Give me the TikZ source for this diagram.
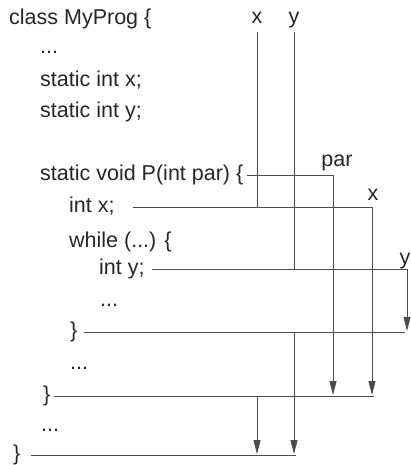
\documentclass[tikz,border=0pt]{standalone}
\usepackage{fontspec}
\setmainfont{Liberation Sans}
\usetikzlibrary{arrows.meta,positioning,calc}

\begin{document}
\begin{tikzpicture}[x=1pt,y=-1pt,
    code/.style={anchor=west,inner xsep=0pt,inner ysep=0pt,text height=16pt,text depth=5pt,
      font=\fontsize{21.5}{26}\selectfont,text=black!85},
    lab/.style={anchor=base,inner sep=0pt,font=\fontsize{21.5}{26}\selectfont,text=black!85},
    scopeline/.style={black!70,line width=0.8pt},
    scopearrow/.style={scopeline,-{Triangle[length=14pt,width=7pt]},shorten >=1pt}]
    \useasboundingbox (0,0) rectangle (411,465);

    % Program text
    \node[code] (cls) at (9,19.5) {class MyProg \{};
    \node[code] (dots1) at (40,48.5) {...};
    \node[code] (sx) at (40,81.5) {static int x;};
    \node[code] (sy) at (40,112.5) {static int y;};
    \node[code] (pdecl) at (40,175) {static void P(int par) \{};
    \node[code] (intx) at (69,207) {int x;};
    \node[code] (whl) at (69,241.5) {while (...) \{};
    \node[code] (inty) at (99,269) {int y;};
    \node[code] (dots2) at (100,300.5) {...};
    \node[code] (wclose) at (70,332) {\}};
    \node[code] (dots3) at (70,363.5) {...};
    \node[code] (pclose) at (43,396) {\}};
    \node[code] (dots4) at (41,425.5) {...};
    \node[code] (clsclose) at (13,455) {\}};

    % Scope columns
    \coordinate (gxtop) at (257,32);
    \coordinate (gytop) at (294,32);
    \coordinate (parcol) at (333,175);
    \coordinate (lxcol) at (372,207);
    \coordinate (lycol) at (407,269);

    % Labels
    \node[lab] (gxlab) at (257,24) {x};
    \node[lab] (gylab) at (294,24) {y};
    \node[lab] (parlab) at (337,166) {par};
    \node[lab] (lxlab) at (373,200) {x};
    \node[lab] (lylab) at (405,264) {y};

    % Global x and y
    \draw[scopeline] (gxtop) -- (gxtop |- intx.east);
    \draw[scopearrow] (gxtop |- pclose.east) -- (gxtop |- clsclose.east);
    \draw[scopeline] (gytop) -- (gytop |- inty.east);
    \draw[scopearrow] (gytop |- wclose.east) -- (gytop |- clsclose.east);

    % Locals
    \draw[scopearrow] ([xshift=3pt]pdecl.east) -| (parcol |- pclose.east);
    \draw[scopearrow] ([xshift=18pt]intx.east) -| (lxcol |- pclose.east);
    \draw[scopearrow] ([xshift=7pt]inty.east) -| (lycol |- wclose.east);

    % Block ends
    \draw[scopeline] ([xshift=6pt]wclose.east) -- ([xshift=-2pt]wclose.east -| lycol);
    \draw[scopeline] ([xshift=3pt]pclose.east) -- ([xshift=2pt]pclose.east -| lxcol);
    \draw[scopeline] ([xshift=10pt]clsclose.east) -- ([xshift=2pt]clsclose.east -| gytop);
\end{tikzpicture}
\end{document}
